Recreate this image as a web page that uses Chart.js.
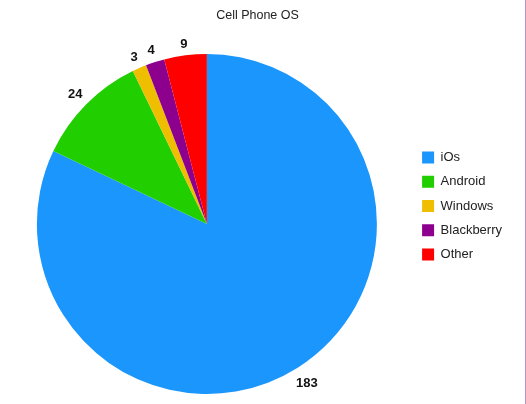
<!DOCTYPE html>
<html>
<head>
<meta charset="utf-8">
<script src="https://cdn.jsdelivr.net/npm/chart.js@4.4.1/dist/chart.umd.min.js"></script>
<style>
  html, body { margin: 0; padding: 0; background: #fff; }
  #wrap { position: relative; width: 525px; height: 404px; border-right: 1px solid #b58fc6; }
</style>
</head>
<body>
<div id="wrap"><canvas id="myChart"></canvas></div>
<script>
var labels = ["iOs", "Android", "Windows", "Blackberry", "Other"];
var values = [183, 24, 3, 4, 9];
var colors = ["#1a96fd", "#21cf00", "#efbe00", "#8d008d", "#ff0000"];

// numbers drawn just outside each slice
var outsideLabels = {
    id: "outsideLabels",
    afterDatasetsDraw: function (chart) {
        var ctx = chart.ctx;
        var meta = chart.getDatasetMeta(0);
        ctx.save();
        ctx.font = "bold 13px 'Liberation Sans', Arial, sans-serif";
        ctx.fillStyle = "#111";
        ctx.textAlign = "center";
        ctx.textBaseline = "middle";
        meta.data.forEach(function (arc, i) {
            var p = arc.getProps(["x", "y", "startAngle", "endAngle", "outerRadius"], true);
            var mid = (p.startAngle + p.endAngle) / 2;
            var cx = Math.cos(mid), cy = Math.sin(mid);
            var w = ctx.measureText(String(values[i])).width;
            var half = Math.abs(cx) * w / 2 + Math.abs(cy) * 5;
            var r = p.outerRadius + 7 + half;
            ctx.fillText(values[i], p.x + cx * r, p.y + cy * r + 1);
        });
        ctx.restore();
    }
};

var ctx = document.getElementById("myChart");

var data = {
    labels: labels,
    datasets: [{
        data: values,
        backgroundColor: colors,
        borderWidth: 0
    }]
};

var options = {
    responsive: true,
    maintainAspectRatio: false,
    animation: false,
    layout: {
        padding: { left: 3, right: 13, top: 0, bottom: 10 }
    },
    plugins: {
        title: {
            display: true,
            text: "Cell Phone OS",
            color: "#222",
            font: { family: "'Liberation Sans', Arial, sans-serif", size: 12.5, weight: "normal" },
            padding: { top: 8, bottom: 31 }
        },
        legend: {
            display: true,
            position: "right",
            title: {
                display: true,
                text: "",
                font: { size: 10 },
                padding: { top: 3, bottom: 3 }
            },
            labels: {
                boxWidth: 12,
                boxHeight: 12,
                padding: 11.3,
                color: "#222",
                font: { family: "'Liberation Sans', Arial, sans-serif", size: 13 }
            }
        },
        tooltip: { enabled: false }
    }
};

var chart = new Chart(ctx, {
    type: "pie",
    data: data,
    options: options,
    plugins: [outsideLabels]
});
</script>
</body>
</html>
